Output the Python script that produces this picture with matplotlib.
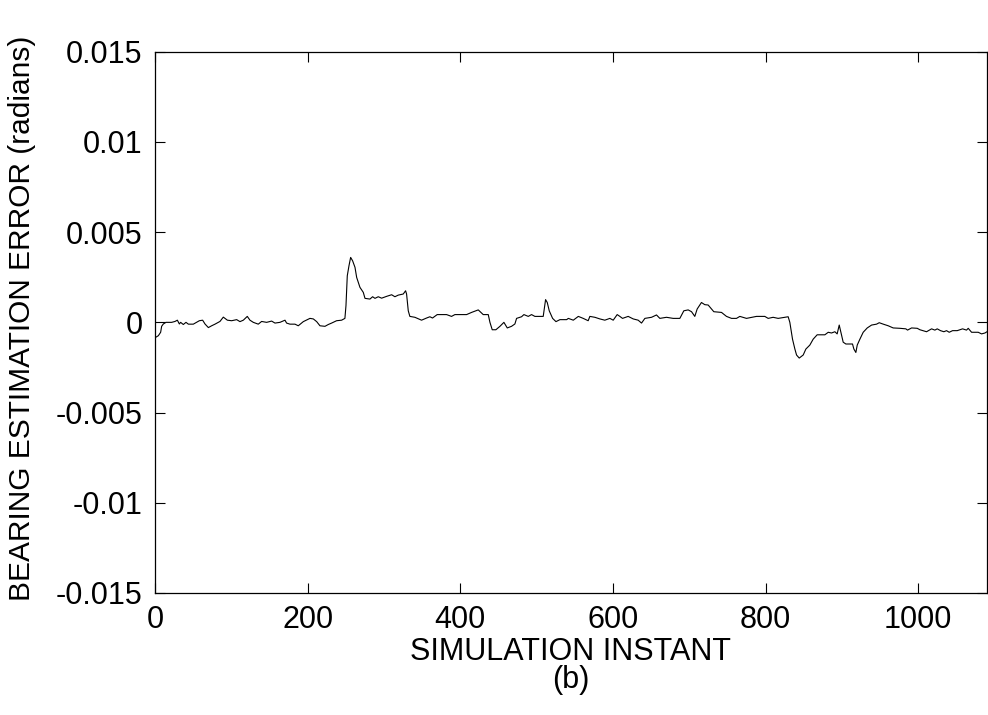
import matplotlib
matplotlib.use("Agg")
import matplotlib.pyplot as plt

plt.rcParams['font.family'] = ['Liberation Sans', 'DejaVu Sans']

# bearing estimation error vs simulation instant
instant = [
    0.9, 4.4, 7.4, 8.7, 10.9, 14.4, 21.8, 26.2, 29.3, 31.9, 33.6, 37.1, 40.6, 43.7,
    50.2, 58.1, 62.4, 65.5, 69.9, 74.2, 78.6, 85.1, 89.5, 94.8, 100.4, 107, 111.3,
    115.7, 120.9, 124.4, 128.8, 135.3, 139.7, 146.2, 152.8, 157.2, 163.7, 170.3,
    172.4, 176.8, 183.4, 187.7, 194.3, 203, 207.4, 211.8, 216.1, 222.7, 227, 231.4,
    237.9, 244.5, 247.5, 248.8, 250.2, 251.9, 254.1, 256.3, 258.9, 262, 264.2,
    268.5, 272.9, 275.1, 281.6, 285.1, 288.2, 292.5, 296.9, 303.4, 310, 314.3,
    318.7, 325.2, 328.3, 329.6, 331.8, 333.9, 340.5, 349.2, 355.8, 360.1, 363.6,
    369.7, 382, 388.5, 392.9, 408.2, 414.7, 423.5, 430, 436.6, 438.8, 441.8, 446.6,
    451.9, 457.1, 461.5, 467.1, 471.5, 473.7, 480.2, 483.3, 489, 493.3, 497.7,
    508.6, 511.7, 513.9, 516.5, 520.9, 525.3, 530.5, 539.3, 541.5, 548, 554.6,
    561, 567.5, 569.7, 576.3, 582.8, 589.3, 595.9, 600.3, 605.5, 609, 612.5,
    619.9, 626.5, 633, 637.4, 641.8, 650.5, 657, 661.4, 670.1, 678.8, 687.6,
    692.8, 698.5, 702.9, 707.2, 710.3, 715.9, 720.3, 724.7, 732.1, 742.2, 748.7,
    755.3, 761.8, 766.2, 774.9, 788, 798.9, 803.3, 809.8, 816.4, 829.5, 831.7,
    835.2, 838.3, 840.5, 844, 849.2, 852.7, 857.9, 862.3, 867.5, 877.6, 882,
    886.3, 890.7, 893.7, 896.4, 898.1, 901.6, 905.1, 913.8, 915.6, 918.2, 920,
    923.5, 927.8, 933.1, 938.8, 945.3, 948.8, 954.1, 960.6, 967.1, 975.9, 983.7,
    985.9, 991.2, 998.6, 1002.1, 1010.8, 1017.4, 1021.7, 1024.8, 1029.1, 1033.5,
    1037, 1040.5, 1044.9, 1051, 1058, 1063.2, 1065.4, 1069.8, 1078.5, 1082.9,
    1087.3, 1090,
]
bearing_error = [
    -0.00083, -0.00074, -0.00055, -0.00022, -0.00009, 0.0, 0.0, 0.00005, 0.00012,
    -0.00009, 0.0, -0.00012, 0.0, -0.0001, -0.0001, 0.00009, 0.00012, -0.00009,
    -0.00029, -0.00019, -0.0001, 0.00005, 0.00029, 0.00012, 0.00009, 0.00015,
    0.00004, 0.00012, 0.00033, 0.00012, 0.0, -0.0001, 0.00005, 0.0, 0.00007,
    -0.00004, 0.0, 0.00012, -0.00004, -0.0001, -0.0001, -0.00019, 0.00004,
    0.00022, 0.00019, 0.00004, -0.00019, -0.00022, -0.00012, -0.00004, 0.00009,
    0.00012, 0.00019, 0.00022, 0.00093, 0.00258, 0.00313, 0.0036, 0.00341,
    0.00305, 0.00249, 0.00194, 0.00166, 0.00133, 0.00129, 0.00142, 0.00133,
    0.00142, 0.00134, 0.00144, 0.00153, 0.00142, 0.00151, 0.00157, 0.00175,
    0.00157, 0.00064, 0.00033, 0.00028, 0.00012, 0.00024, 0.00031, 0.00024,
    0.00043, 0.00043, 0.00033, 0.00043, 0.00043, 0.00055, 0.00069, 0.00043,
    0.00043, 0.0, -0.00041, -0.00041, -0.00022, 0.0, -0.00031, -0.00022,
    -0.00009, 0.00022, 0.00031, 0.00043, 0.00033, 0.00043, 0.00033, 0.00033,
    0.00126, 0.0011, 0.00064, 0.00022, 0.00004, 0.00015, 0.00015, 0.00022,
    0.00012, 0.00033, 0.00022, 0.00009, 0.00033, 0.00028, 0.00019, 0.00012,
    0.00022, 0.00012, 0.00043, 0.00033, 0.00022, 0.00033, 0.00019, 0.00012,
    -0.00004, 0.00022, 0.00028, 0.00041, 0.00022, 0.00028, 0.00022, 0.00022,
    0.00064, 0.00069, 0.00059, 0.00033, 0.00074, 0.0011, 0.00098, 0.00096,
    0.00059, 0.00055, 0.00033, 0.00022, 0.00022, 0.00033, 0.00022, 0.00033,
    0.00033, 0.00022, 0.00028, 0.00022, 0.00031, 0.0, -0.00093, -0.00148,
    -0.00181, -0.00198, -0.00181, -0.00148, -0.00126, -0.00093, -0.00069,
    -0.00069, -0.00055, -0.00059, -0.00052, -0.00064, -0.00015, -0.00046,
    -0.0011, -0.0012, -0.0012, -0.00148, -0.00167, -0.00126, -0.00093, -0.00055,
    -0.00031, -0.00015, -0.0001, -0.00002, -0.0001, -0.00019, -0.00031, -0.00033,
    -0.00036, -0.00043, -0.00031, -0.00033, -0.00041, -0.00052, -0.00036,
    -0.00043, -0.00036, -0.00046, -0.00052, -0.00046, -0.00055, -0.00046,
    -0.00046, -0.00036, -0.00043, -0.00033, -0.00055, -0.00055, -0.00064,
    -0.00059, -0.00052,
]

y_ticks = [-0.015, -0.01, -0.005, 0, 0.005, 0.01, 0.015]
y_tick_labels = ['-0.015', '-0.01', '-0.005', '0', '0.005', '0.01', '0.015']
x_ticks = [0, 200, 400, 600, 800, 1000]

W, H = 988, 715
fig = plt.figure(figsize=(W / 100, H / 100), dpi=100)
ax = fig.add_axes([155 / W, 1 - 593 / H, 832 / W, (593 - 51.7) / H])

ax.plot(instant, bearing_error, color='black', linewidth=0.8)

ax.set_xlim(0, 1090)
ax.set_ylim(-0.015, 0.015)
ax.set_xticks(x_ticks)
ax.set_xticklabels([str(t) for t in x_ticks])
ax.set_yticks(y_ticks)
ax.set_yticklabels(y_tick_labels)
ax.tick_params(direction='in', top=True, right=True, length=7, width=0.8,
               labelsize=22, pad=9)
for s in ax.spines.values():
    s.set_linewidth(0.9)

# axis titles placed in figure pixels
fig.text(22 / W, 1 - 318 / H, 'BEARING ESTIMATION ERROR (radians)', fontsize=21.5,
         rotation=90, ha='center', va='center')
fig.text(571 / W, 1 - 652 / H, 'SIMULATION INSTANT', fontsize=22,
         ha='center', va='center')
fig.text(571 / W, 1 - 680 / H, '(b)', fontsize=22, ha='center', va='center')

fig.savefig('out.png', dpi=100)
